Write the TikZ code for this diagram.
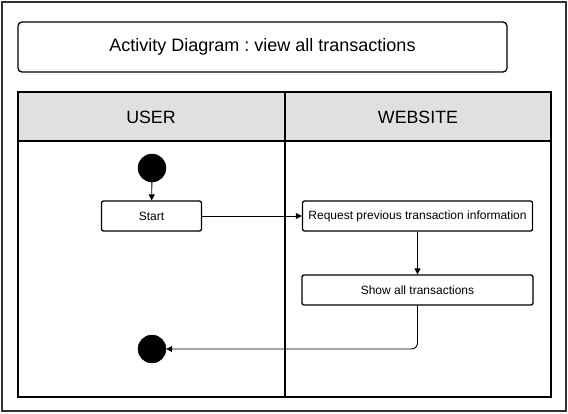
\documentclass[tikz,border=0pt]{standalone}
\usepackage{fontspec}
\setmainfont{Liberation Sans}
\frenchspacing
\usetikzlibrary{arrows.meta}
\definecolor{hdr}{HTML}{E0E0E0}
\definecolor{frm}{HTML}{333333}
\begin{document}
\begin{tikzpicture}[x=1pt,y=-1pt,
  actbox/.style={draw=black,line width=1.3pt,rounded corners=2pt,fill=white,minimum height=30pt,inner sep=0pt,font=\fontsize{12}{14}\selectfont},
  dot/.style={circle,fill=black,draw=black,minimum size=28pt,inner sep=0pt},
  flow/.style={-{Triangle[length=6pt,width=6pt]},line width=0.9pt},
  lane/.style={draw=black,line width=1.3pt}]
\useasboundingbox (0,0) rectangle (568,413);
\draw[frm,line width=2pt] (2,2) rectangle (566,411);
\node[draw=black,line width=1.3pt,rounded corners=4pt,minimum width=489pt,minimum height=50pt,font=\fontsize{18}{21}\selectfont] (title) at (262.5,47) {Activity Diagram : view all transactions};
% swimlanes
\fill[hdr] (18,92) rectangle (551,141);
\draw[lane] (18,92) rectangle (551,397);
\draw[lane] (18,141) -- (551,141);
\draw[line width=2pt] (284.5,92) -- (284.5,397);
\node[font=\fontsize{17.8}{21}\selectfont] (user) at (151,117) {USER};
\node[font=\fontsize{17.8}{21}\selectfont] (web) at (418,117) {WEBSITE};
% nodes
\node[dot] (start) at (152,168) {};
\node[actbox,minimum width=100pt] (s) at (151.5,216) {Start};
\node[actbox,minimum width=230pt] (req) at (417.5,216) {Request previous transaction information};
\node[actbox,minimum width=231pt] (show) at (417.5,290) {Show all transactions};
\node[dot] (end) at (152,349) {};
% flows
\draw[flow] (start) -- (s);
\draw[flow] (s) -- (req);
\draw[flow] (req) -- (show);
\draw[flow,rounded corners=6pt] (show.south) |- (end.east);
\end{tikzpicture}
\end{document}
